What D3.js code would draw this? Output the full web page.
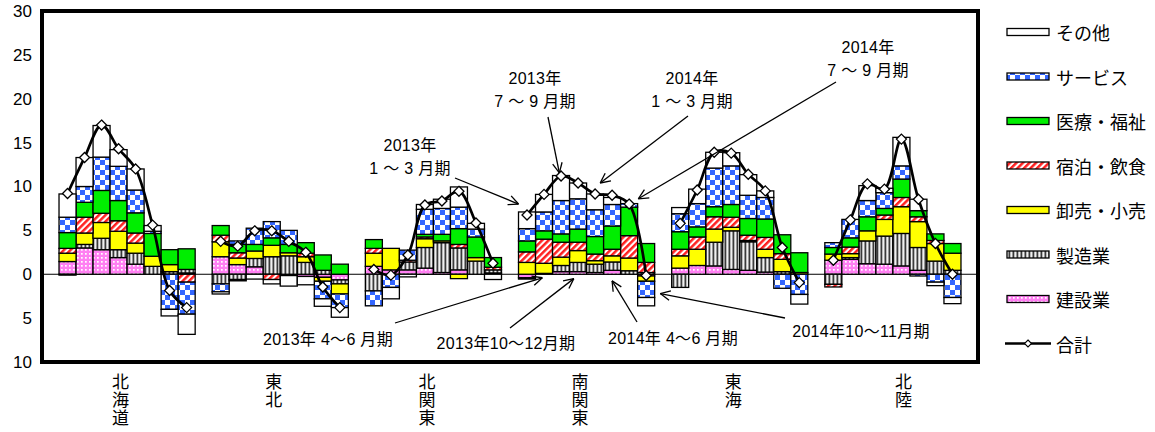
<!DOCTYPE html>
<html>
<head>
<meta charset="utf-8">
<script src="https://cdn.jsdelivr.net/npm/d3@7"></script>
<style>
  html, body { margin: 0; padding: 0; background: #fff; }
  svg { display: block; }
  text { font-family: "Liberation Sans", Arial, "Noto Sans CJK JP", sans-serif; fill: #000; }
  .jp { font-family: "Noto Sans CJK JP", sans-serif; }
  .vertical { writing-mode: vertical-rl; text-orientation: upright; letter-spacing: 1px; }
  .note { font-family: "Liberation Sans", Arial, "Noto Sans CJK JP", sans-serif; font-size: 16px; }
</style>
</head>
<body>
<svg id="chart" width="1155" height="432"></svg>
<script>
// Regions along the category axis and the eight periods shown for each.
const regions = ["北海道", "東北", "北関東", "南関東", "東海", "北陸"];
const periods = ["2013年1～3月期", "2013年4～6月期", "2013年7～9月期", "2013年10～12月期",
                 "2014年1～3月期", "2014年4～6月期", "2014年7～9月期", "2014年10～11月期"];

// Contributions by industry (percentage points); one row per region, eight periods per row.
const construction = [
  [1.45, 3.0, 2.8, 1.9, 1.15, 0, 0, 0.15],
  [2.0, 1.1, 0.85, 0, -0.15, -0.25, -0.35, -0.65],
  [0.9, 0.5, 0.5, 0.7, 0.2, 0.5, 0, 0.15],
  [-0.4, 0.1, 0.3, 0.3, 0.2, 0.45, 0, -0.2],
  [0.7, 1.0, 0.95, 0.55, 0.45, 0.25, 0, 0],
  [1.6, 1.7, 1.2, 1.15, 0.95, 0.45, 0, 0]
];
const manufacturing = [
  [-0.1, 0.4, 1.3, 0.9, 1.25, 0.9, 0.3, 0.4],
  [-1.1, -0.6, 0.95, 2.0, 2.1, 1.35, 0.45, -0.45],
  [-1.9, 0, 0.9, 2.35, 3.4, 2.5, 1.5, 0.35],
  [-0.15, 0, 0.7, 1.05, 0.95, 0.95, 0.4, 0.2],
  [-1.5, 0, 2.7, 4.4, 3.25, 1.65, 0.3, 0],
  [-1.15, 0.2, 2.6, 3.2, 3.7, 2.6, 1.5, 0.45]
];
const retail = [
  [0.95, 1.3, 1.8, 2.1, 1.15, 1.15, 0.8, 0],
  [1.7, 0.75, 0.85, 1.3, 0.35, 0.65, -0.45, -1.15],
  [1.5, 2.45, 0, 1.0, 0.2, -0.5, 0.4, 0],
  [1.35, 1.15, 0.95, 1.35, 0.4, 0.7, 1.45, -0.6],
  [1.4, 1.85, 1.5, 0.4, 0.15, 0.95, 1.4, 0.2],
  [0.7, 0.45, 1.15, 1.9, 3.05, 2.95, 2.0, 1.95]
];
const hotel = [
  [0.55, 1.8, 1.05, 1.2, 1.15, 0, 0, -0.9],
  [0.75, 0.6, 0, -0.6, 0, 0.4, 0, 0],
  [0.55, 0, 0.2, 0.2, 0, 0.4, 0, 0.3],
  [1.2, 2.75, 1.7, 0.95, 0.75, 0.75, 2.55, 1.15],
  [0.75, 1.4, 1.4, 1.15, 0.6, 1.35, 0.65, 0],
  [-0.3, 0.75, 0, 0.5, 1.05, 0.55, 0.35, 0]
];
const medical = [
  [1.8, 1.7, 2.6, 2.3, 2.3, 2.6, 1.7, 2.35],
  [1.1, 0.95, 0.75, 0.85, 0.95, 1.2, 1.75, 1.15],
  [1.0, 0, 0, 0.3, 0.75, 1.8, 2.35, 1.1],
  [1.25, 0.95, 0.95, 1.5, 2.0, 2.65, 3.25, 2.15],
  [2.0, 1.15, 1.15, 1.45, 1.9, 2.1, 2.15, 2.25],
  [0.75, 1.05, 1.6, 0.75, 2.1, 0.7, 0.75, 1.1]
];
const service = [
  [1.75, 1.8, 3.8, 3.9, 2.6, 0.25, -4.0, -3.65],
  [-0.9, 0.4, 1.85, 1.85, 1.6, 0, -2.0, -1.55],
  [-1.7, -1.5, 1.15, 2.85, 2.95, 2.45, 0.9, 0],
  [1.4, 2.15, 3.8, 3.45, 3.05, 2.45, 0.4, -1.85],
  [2.05, 2.65, 4.4, 4.4, 2.65, 2.45, -1.6, -2.3],
  [0.55, 2.1, 1.85, 1.8, 1.5, -0.2, -0.9, -2.65]
];
const other = [
  [2.65, 3.3, 3.6, 1.9, 2.4, 0.65, -0.75, -2.3],
  [-0.25, -0.15, -0.55, -0.5, -1.2, -0.95, -0.85, -1.1],
  [0, -1.3, -0.3, 0.55, 1.05, 2.3, 0.65, -0.6],
  [1.9, 2.0, 2.85, 1.8, 1.8, 0.8, 0, -0.95],
  [0.7, 1.65, 1.8, 1.5, 2.35, 0.75, 0, -1.1],
  [0, 0, 1.7, 0.5, 3.25, 1.3, -0.4, -0.7]
];
const total = [
  [9.2, 13.3, 17.0, 14.3, 12.0, 5.6, -1.85, -3.8],
  [3.75, 3.2, 4.95, 4.95, 3.75, 2.5, -1.45, -3.8],
  [0.55, -0.1, 2.2, 7.9, 8.35, 9.45, 5.85, 1.25],
  [6.75, 9.1, 11.2, 10.4, 9.15, 9.0, 8.0, -0.15],
  [5.8, 9.6, 13.9, 13.8, 11.4, 9.5, 3.05, -0.95],
  [1.6, 6.2, 10.3, 9.7, 15.4, 8.55, 3.5, 0.0]
];

// Axis tick values and the labels printed beside them (magnitudes only).
const yTicks = [-10, -5, 0, 5, 10, 15, 20, 25, 30];
const yTickLabels = ["10", "5", "0", "5", "10", "15", "20", "25", "30"];

// Stack order from the zero line outward, with legend names.
const seriesKeys  = ["construction", "manufacturing", "retail", "hotel", "medical", "service", "other"];
const seriesNames = ["建設業", "製造業", "卸売・小売", "宿泊・飲食", "医療・福祉", "サービス", "その他"];
const seriesData  = { construction, manufacturing, retail, hotel, medical, service, other };
const totalName = "合計";

// Period under which each region name is printed.
const regionLabelPeriod = [3, 3, 3, 3, 3, 4];

// ---------------------------------------------------------------------------
const svg = d3.select("#chart");
const plot = { left: 42, right: 978, top: 11, bottom: 362 };

const defs = svg.append("defs");
function pattern(id, w, h, transform) {
  const p = defs.append("pattern").attr("id", id)
    .attr("patternUnits", "userSpaceOnUse").attr("width", w).attr("height", h);
  if (transform) p.attr("patternTransform", transform);
  return p;
}
// サービス: blue checkerboard
{
  const p = pattern("pat-service", 10, 10);
  p.append("rect").attr("width", 10).attr("height", 10).attr("fill", "#fff");
  p.append("rect").attr("width", 5).attr("height", 5).attr("fill", "#3366ff");
  p.append("rect").attr("x", 5).attr("y", 5).attr("width", 5).attr("height", 5).attr("fill", "#3366ff");
}
// 宿泊・飲食: red diagonal stripes
{
  const p = pattern("pat-hotel", 4.6, 4.6, "rotate(45)");
  p.append("rect").attr("width", 4.6).attr("height", 4.6).attr("fill", "#fff");
  p.append("rect").attr("width", 2.5).attr("height", 4.6).attr("fill", "#ff2020");
}
// 製造業: dark vertical stripes
{
  const p = pattern("pat-manufacturing", 4, 4);
  p.append("rect").attr("width", 4).attr("height", 4).attr("fill", "#f0f0f0");
  p.append("rect").attr("x", 0.5).attr("width", 1.8).attr("height", 4).attr("fill", "#3a3a3a");
}
// 建設業: pink dots
{
  const p = pattern("pat-construction", 4, 4);
  p.append("rect").attr("width", 4).attr("height", 4).attr("fill", "#ff80f2");
  p.append("rect").attr("x", 1).attr("y", 1).attr("width", 1.7).attr("height", 1.7).attr("fill", "#fff");
}

const fills = {
  construction: "url(#pat-construction)",
  manufacturing: "url(#pat-manufacturing)",
  retail: "#ffff00",
  hotel: "url(#pat-hotel)",
  medical: "#00ee00",
  service: "url(#pat-service)",
  other: "#ffffff"
};

svg.append("rect").attr("width", 1155).attr("height", 432).attr("fill", "#fff");

// Scales
const x0 = d3.scaleBand().domain(regions)
  .range([plot.left, plot.right]).paddingInner(1 / 9).paddingOuter(1 / 9);
const x1 = d3.scaleBand().domain(d3.range(periods.length)).range([0, x0.bandwidth()]);
const y = d3.scaleLinear().domain([-10, 30]).range([plot.bottom, plot.top]);

// Flatten into one row per bar
const rows = [];
regions.forEach((r, ri) => {
  periods.forEach((p, pi) => {
    const row = { region: r, ri, pi };
    seriesKeys.forEach(k => { row[k] = seriesData[k][ri][pi]; });
    row.total = total[ri][pi];
    rows.push(row);
  });
});

const stacked = d3.stack().keys(seriesKeys).offset(d3.stackOffsetDiverging)(rows);

// Zero line
svg.append("line")
  .attr("x1", plot.left).attr("x2", plot.right)
  .attr("y1", y(0)).attr("y2", y(0))
  .attr("stroke", "#000").attr("stroke-width", 1);

// Stacked bars
const barX = d => x0(d.data.region) + x1(d.data.pi);
svg.append("g").selectAll("g").data(stacked).join("g")
  .attr("fill", s => fills[s.key])
  .selectAll("rect").data(s => s.filter(d => Math.abs(d[1] - d[0]) > 1e-9)).join("rect")
  .attr("x", barX)
  .attr("width", x1.bandwidth())
  .attr("y", d => y(Math.max(d[0], d[1])))
  .attr("height", d => Math.abs(y(d[0]) - y(d[1])))
  .attr("stroke", "#000").attr("stroke-width", 1.3);

// Total line and markers, one smoothed run per region
const cx = (ri, pi) => x0(regions[ri]) + x1(pi) + x1.bandwidth() / 2;
const line = d3.line()
  .x(d => cx(d.ri, d.pi)).y(d => y(d.total))
  .curve(d3.curveCatmullRom.alpha(0.5));
regions.forEach((r, ri) => {
  const pts = rows.filter(d => d.ri === ri);
  svg.append("path").datum(pts).attr("d", line)
    .attr("fill", "none").attr("stroke", "#000").attr("stroke-width", 2.7);
});
const diamond = s => `M0,${-s}L${s},0L0,${s}L${-s},0Z`;
svg.append("g").selectAll("path").data(rows).join("path")
  .attr("d", diamond(5))
  .attr("transform", d => `translate(${cx(d.ri, d.pi)},${y(d.total)})`)
  .attr("fill", "#fff").attr("stroke", "#000").attr("stroke-width", 1.3);

// Y axis labels
const yAxis = d3.axisLeft(y).tickValues(yTicks)
  .tickFormat((v, i) => yTickLabels[i]).tickSize(0).tickPadding(10);
const gy = svg.append("g").attr("transform", `translate(${plot.left},0)`).call(yAxis);
gy.select(".domain").remove();
gy.selectAll("text").attr("font-size", 17)
  .attr("font-family", "'Liberation Sans', Arial, sans-serif");

// Region names, written vertically
regions.forEach((r, ri) => {
  svg.append("text").attr("class", "jp vertical")
    .attr("x", cx(ri, regionLabelPeriod[ri]) + 2).attr("y", 373)
    .attr("font-size", 17)
    .text(r);
});

// Period call-outs with open arrowheads pointing at the 南関東 bars
const calloutRegion = regions.indexOf("南関東");
const notes = [
  { lines: ["2013年", "1 ～ 3 月期"], tx: 410, ty: 145, from: [455, 178], pi: 0, fx: 0.0, v: 8.0 },
  { lines: ["2013年", "7 ～ 9 月期"], tx: 535, ty: 78, from: [548, 117], pi: 2, fx: 0.4, v: 11.55 },
  { lines: ["2014年", "1 ～ 3 月期"], tx: 692, ty: 78, from: [688, 116], pi: 4, fx: 0.8, v: 10.4 },
  { lines: ["2014年", "7 ～ 9 月期"], tx: 868, ty: 47, from: [836, 82], pi: 6, fx: 1.04, v: 8.6 },
  { lines: ["2013年 4～6 月期"], tx: 328, ty: 339, from: [395, 323], pi: 1, fx: 0.4, v: -0.4 },
  { lines: ["2013年10～12月期"], tx: 506, ty: 343, from: [510, 328], pi: 3, fx: 0.25, v: -0.5 },
  { lines: ["2014年 4～6 月期"], tx: 673, ty: 338, from: [637, 322], pi: 5, fx: 0.5, v: -0.75 },
  { lines: ["2014年10～11月期"], tx: 861, ty: 331, from: [785, 318], pi: 7, fx: 1.33, v: -2.2 }
];
const gNotes = svg.append("g");
notes.forEach(n => {
  const tip = [x0(regions[calloutRegion]) + x1(n.pi) + n.fx * x1.bandwidth(), y(n.v)];
  gNotes.append("line")
    .attr("x1", n.from[0]).attr("y1", n.from[1]).attr("x2", tip[0]).attr("y2", tip[1])
    .attr("stroke", "#000").attr("stroke-width", 1.3);
  const ang = Math.atan2(n.from[1] - tip[1], n.from[0] - tip[0]);
  const len = 11, spread = 0.45;
  [ang - spread, ang + spread].forEach(a => {
    gNotes.append("line")
      .attr("x1", tip[0]).attr("y1", tip[1])
      .attr("x2", tip[0] + len * Math.cos(a)).attr("y2", tip[1] + len * Math.sin(a))
      .attr("stroke", "#000").attr("stroke-width", 1.3);
  });
  n.lines.forEach((s, i) => {
    gNotes.append("text").attr("class", "note")
      .attr("x", n.tx).attr("y", n.ty + i * 23)
      .attr("text-anchor", "middle").attr("dominant-baseline", "central")
      .attr("letter-spacing", 0.3)
      .text(s);
  });
});

// Plot frame
svg.append("rect")
  .attr("x", plot.left).attr("y", plot.top)
  .attr("width", plot.right - plot.left).attr("height", plot.bottom - plot.top)
  .attr("fill", "none").attr("stroke", "#000").attr("stroke-width", 4);

// Legend (top to bottom: outermost series first, then the total)
const legend = svg.append("g");
const legendKeys = seriesKeys.slice().reverse();
const legendNames = seriesNames.slice().reverse();
legendKeys.forEach((k, i) => {
  const cy = 32 + i * 44.5;
  legend.append("rect").attr("x", 1007).attr("y", cy - 3.5).attr("width", 42).attr("height", 7)
    .attr("fill", fills[k]).attr("stroke", "#000").attr("stroke-width", 1.3);
  legend.append("text").attr("class", "jp").attr("x", 1056).attr("y", cy)
    .attr("dominant-baseline", "central").attr("font-size", 18).text(legendNames[i]);
});
{
  const cy = 32 + legendKeys.length * 44.5;
  legend.append("line").attr("x1", 1005).attr("x2", 1051).attr("y1", cy).attr("y2", cy)
    .attr("stroke", "#000").attr("stroke-width", 2.7);
  legend.append("path").attr("d", diamond(3.5)).attr("transform", `translate(1028,${cy})`)
    .attr("fill", "#fff").attr("stroke", "#000").attr("stroke-width", 1.1);
  legend.append("text").attr("class", "jp").attr("x", 1056).attr("y", cy)
    .attr("dominant-baseline", "central").attr("font-size", 18).text(totalName);
}
</script>
</body>
</html>
